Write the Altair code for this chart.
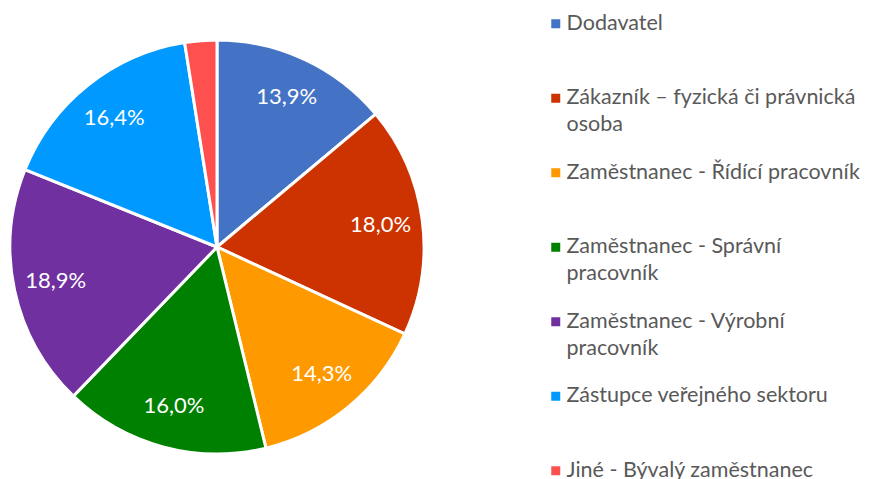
import altair as alt
import pandas as pd

categories = [
    "Dodavatel",
    "Zákazník – fyzická či právnická osoba",
    "Zaměstnanec - Řídící pracovník",
    "Zaměstnanec - Správní pracovník",
    "Zaměstnanec - Výrobní pracovník",
    "Zástupce veřejného sektoru",
    "Jiné - Bývalý zaměstnanec",
]
values = [13.9, 18.0, 14.3, 16.0, 18.9, 16.4, 2.5]
colors = ["#4472C4", "#CC3300", "#FF9900", "#008000", "#7030A0", "#0099FF", "#FF5050"]
wrapped = {
    "Dodavatel": ["Dodavatel", " "],
    "Zákazník – fyzická či právnická osoba": ["Zákazník – fyzická či právnická", "osoba"],
    "Zaměstnanec - Řídící pracovník": ["Zaměstnanec - Řídící pracovník", " "],
    "Zaměstnanec - Správní pracovník": ["Zaměstnanec - Správní", "pracovník"],
    "Zaměstnanec - Výrobní pracovník": ["Zaměstnanec - Výrobní", "pracovník"],
    "Zástupce veřejného sektoru": ["Zástupce veřejného sektoru", " "],
    "Jiné - Bývalý zaměstnanec": ["Jiné - Bývalý zaměstnanec", " "],
}

df = pd.DataFrame({"cat": categories, "value": values, "idx": list(range(len(categories)))})

label_expr = ""
for k, lines in wrapped.items():
    arr = "[" + ",".join("'" + l + "'" for l in lines) + "]"
    label_expr += f"datum.label == '{k}' ? {arr} : "
label_expr += "datum.label"

FONT = "Lato"
FS = 21.5

base = alt.Chart(df).encode(
    theta=alt.Theta("value:Q", stack=True),
    order=alt.Order("idx:Q"),
)

pie = base.mark_arc(radius=207, stroke="white", strokeWidth=3).encode(
    color=alt.Color(
        "cat:N",
        scale=alt.Scale(domain=categories, range=colors),
        sort=categories,
        legend=alt.Legend(
            title=None,
            orient="none",
            legendX=537,
            legendY=-11,
            symbolType="square",
            symbolSize=81,
            symbolStrokeWidth=0,
            labelFont=FONT,
            labelFontSize=FS,
            labelColor="#595959",
            labelLimit=400,
            labelExpr=label_expr,
            labelBaseline="middle",
            rowPadding=24.5,
            labelOffset=0,
        ),
    )
)

text = base.transform_calculate(
    lbl="replace(format(datum.value, '.1f'), '.', ',') + '%'"
).transform_filter("datum.value > 5").mark_text(
    radius=165, font=FONT, fontSize=22, color="white"
).encode(text="lbl:N")

chart = (pie + text).properties(
    width=418, height=446,
    padding={"top": 16, "left": 0, "right": 438, "bottom": 12},
    autosize=alt.AutoSizeParams(type="none"),
).configure(style={"guide-label": {"lineHeight": 27}}).configure_view(stroke=None)

chart.save("out.html", embed_options={"renderer": "svg", "actions": False})
